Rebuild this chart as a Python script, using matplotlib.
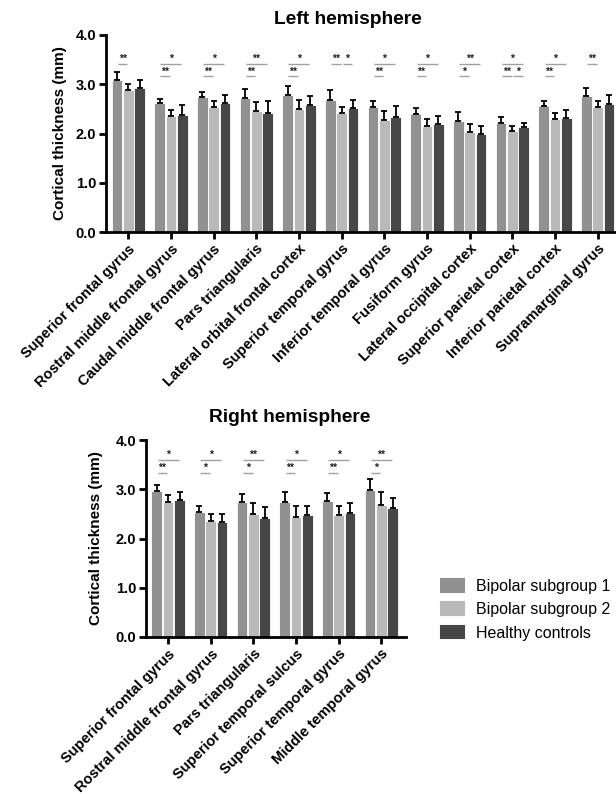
import matplotlib
matplotlib.use("Agg")
import matplotlib.pyplot as plt
import numpy as np
from matplotlib.patches import Patch

plt.rcParams['font.family'] = ['Liberation Sans', 'DejaVu Sans']

# ---------------- data ----------------
groups = ["Bipolar subgroup 1", "Bipolar subgroup 2", "Healthy controls"]
colors = ["#919191", "#b9b9b9", "#474747"]

left_regions = ["Superior frontal gyrus", "Rostral middle frontal gyrus",
                "Caudal middle frontal gyrus", "Pars triangularis",
                "Lateral orbital frontal cortex", "Superior temporal gyrus",
                "Inferior temporal gyrus", "Fusiform gyrus",
                "Lateral occipital cortex", "Superior parietal cortex",
                "Inferior parietal cortex", "Supramarginal gyrus"]
left_bd1 = [3.09, 2.62, 2.74, 2.72, 2.79, 2.68, 2.53, 2.39, 2.26, 2.22, 2.55, 2.77]
left_bd1_sd = [0.15, 0.09, 0.10, 0.19, 0.18, 0.20, 0.12, 0.12, 0.17, 0.12, 0.11, 0.16]
left_bd2 = [2.88, 2.36, 2.53, 2.45, 2.50, 2.41, 2.28, 2.16, 2.03, 2.05, 2.30, 2.54]
left_bd2_sd = [0.13, 0.11, 0.12, 0.19, 0.18, 0.12, 0.17, 0.14, 0.17, 0.11, 0.12, 0.12]
left_hc = [2.93, 2.38, 2.61, 2.42, 2.57, 2.51, 2.34, 2.20, 1.99, 2.13, 2.32, 2.60]
left_hc_sd = [0.16, 0.19, 0.17, 0.24, 0.19, 0.18, 0.22, 0.16, 0.17, 0.09, 0.15, 0.18]
# (region index, bar a, bar b, row (0 = upper, 1 = lower), label)
left_sig = [(0, 0, 1, 0, "**"),
            (1, 0, 2, 0, "*"), (1, 0, 1, 1, "**"),
            (2, 0, 2, 0, "*"), (2, 0, 1, 1, "**"),
            (3, 0, 2, 0, "**"), (3, 0, 1, 1, "**"),
            (4, 0, 2, 0, "*"), (4, 0, 1, 1, "**"),
            (5, 0, 1, 0, "**"), (5, 1, 2, 0, "*"),
            (6, 0, 2, 0, "*"), (6, 0, 1, 1, "**"),
            (7, 0, 2, 0, "*"), (7, 0, 1, 1, "**"),
            (8, 0, 2, 0, "**"), (8, 0, 1, 1, "*"),
            (9, 0, 2, 0, "*"), (9, 0, 1, 1, "**"), (9, 1, 2, 1, "*"),
            (10, 0, 2, 0, "*"), (10, 0, 1, 1, "**"),
            (11, 0, 1, 0, "**")]
left_sig_rows = [3.42, 3.16]

right_regions = ["Superior frontal gyrus", "Rostral middle frontal gyrus",
                 "Pars triangularis", "Superior temporal sulcus",
                 "Superior temporal gyrus", "Middle temporal gyrus"]
right_bd1 = [2.97, 2.54, 2.74, 2.74, 2.77, 2.99]
right_bd1_sd = [0.12, 0.11, 0.16, 0.20, 0.16, 0.22]
right_bd2 = [2.74, 2.36, 2.49, 2.43, 2.48, 2.68]
right_bd2_sd = [0.15, 0.14, 0.23, 0.22, 0.18, 0.26]
right_hc = [2.78, 2.33, 2.41, 2.48, 2.51, 2.61]
right_hc_sd = [0.17, 0.16, 0.23, 0.19, 0.21, 0.22]
right_sig = [(0, 0, 2, 0, "*"), (0, 0, 1, 1, "**"),
             (1, 0, 2, 0, "*"), (1, 0, 1, 1, "*"),
             (2, 0, 2, 0, "**"), (2, 0, 1, 1, "*"),
             (3, 0, 2, 0, "*"), (3, 0, 1, 1, "**"),
             (4, 0, 2, 0, "*"), (4, 0, 1, 1, "**"),
             (5, 0, 2, 0, "**"), (5, 0, 1, 1, "*")]
right_sig_rows = [3.60, 3.34]

yticks = [0.0, 1.0, 2.0, 3.0, 4.0]
ytick_labels = ["0.0", "1.0", "2.0", "3.0", "4.0"]

# ---------------- figure ----------------
W, H = 616, 794
fig = plt.figure(figsize=(W / 100, H / 100), dpi=100)

BW = 0.25
OFF = [-0.266, 0.0, 0.266]


def px_axes(l, t, r, b):
    return fig.add_axes([l / W, 1 - b / H, (r - l) / W, (b - t) / H])


def draw(ax, regions, means, sds, sig, rows, xlim, title, title_xy, ylabel_px):
    x = np.arange(len(regions))
    for i in range(3):
        ax.bar(x + OFF[i], means[i], width=BW, color=colors[i],
               edgecolor="white", linewidth=0.6, zorder=2)
        ax.errorbar(x + OFF[i], means[i],
                    yerr=[np.zeros(len(x)), sds[i]], fmt="none",
                    ecolor="black", elinewidth=1.3, capsize=2.4,
                    capthick=1.3, zorder=3)
    for (g, a, b, r, lab) in sig:
        x0 = g + OFF[a] + 0.02
        x1 = g + OFF[b] - 0.02
        yv = rows[r]
        ax.plot([x0, x1], [yv, yv], color="#a0a0a0", lw=1.0, zorder=2,
                solid_capstyle="butt")
        ax.text((x0 + x1) / 2, yv - 0.01, lab, ha="center", va="bottom",
                fontsize=7.5, color="#202020", fontweight="bold")
    ax.set_xlim(*xlim)
    ax.set_ylim(0, 4.0)
    ax.set_yticks(yticks)
    ax.set_yticklabels(ytick_labels)
    ax.set_xticks(x)
    ax.set_xticklabels(regions, rotation=45, ha="right",
                       rotation_mode="anchor")
    for s in ["top", "right"]:
        ax.spines[s].set_visible(False)
    for s in ["left", "bottom"]:
        ax.spines[s].set_linewidth(2.0)
    ax.tick_params(axis="both", direction="out", length=5, width=2.0,
                   labelsize=10.5, pad=2)
    for lbl in ax.get_xticklabels() + ax.get_yticklabels():
        lbl.set_fontweight("bold")
    ax.set_ylabel("Cortical thickness (mm)", fontsize=11, fontweight="bold")
    bb = ax.get_position()
    ax.yaxis.set_label_coords(-ylabel_px / (bb.width * W), 0.5)
    fig.text(title_xy[0] / W, 1 - title_xy[1] / H, title, ha="center",
             va="center", fontsize=13.8, fontweight="bold")


ax1 = px_axes(106, 35, 617, 232)
draw(ax1, left_regions, [left_bd1, left_bd2, left_hc],
     [left_bd1_sd, left_bd2_sd, left_hc_sd], left_sig, left_sig_rows,
     (-0.52, 11.45), "Left hemisphere", (348, 19), 39)

ax2 = px_axes(146, 440, 406, 637)
draw(ax2, right_regions, [right_bd1, right_bd2, right_hc],
     [right_bd1_sd, right_bd2_sd, right_hc_sd], right_sig, right_sig_rows,
     (-0.52, 5.58), "Right hemisphere", (290, 417), 43)

handles = [Patch(facecolor=c, edgecolor=c, linewidth=1.5, joinstyle="round")
           for c in colors]
fig.legend(handles, groups, loc="upper left",
           bbox_to_anchor=(441 / W, 1 - 579 / H), frameon=False,
           fontsize=11.5, handlelength=1.45, handleheight=0.85,
           handletextpad=0.75, labelspacing=0.52, borderpad=0,
           borderaxespad=0)

fig.savefig("out.png", dpi=100)
